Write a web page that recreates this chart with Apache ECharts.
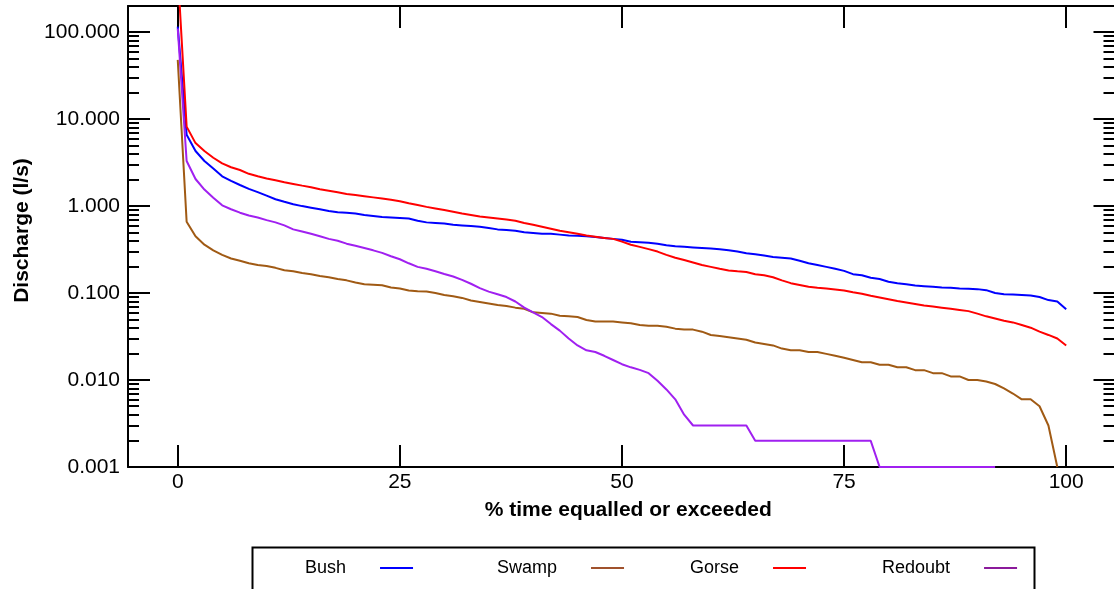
<!DOCTYPE html>
<html>
<head>
<meta charset="utf-8">
<script src="https://cdn.jsdelivr.net/npm/echarts@6.0.0/dist/echarts.min.js"></script>
<style>
html, body { margin: 0; padding: 0; background: #fff; }
#chart { width: 1114px; height: 589px; }
</style>
</head>
<body>
<div id="chart"></div>
<script>
// flow duration curves, one value per 1% exceedance step (0..100)
var names = ['Bush', 'Swamp', 'Gorse', 'Redoubt'];

var bush = [116, 6.6, 4.3, 3.3, 2.7, 2.2, 1.95, 1.75, 1.58, 1.45,
  1.32, 1.2, 1.12, 1.05, 1.0, 0.96, 0.92, 0.88, 0.85, 0.84,
  0.82, 0.79, 0.77, 0.75, 0.74, 0.73, 0.72, 0.68, 0.65, 0.64,
  0.63, 0.61, 0.6, 0.59, 0.58, 0.56, 0.54, 0.53, 0.52, 0.5,
  0.49, 0.48, 0.48, 0.47, 0.46, 0.455, 0.45, 0.44, 0.43, 0.42,
  0.41, 0.39, 0.385, 0.38, 0.37, 0.355, 0.345, 0.34, 0.335, 0.33,
  0.325, 0.32, 0.31, 0.3, 0.287, 0.28, 0.27, 0.26, 0.255, 0.25,
  0.235, 0.22, 0.21, 0.2, 0.19, 0.18, 0.165, 0.16, 0.15, 0.145,
  0.135, 0.13, 0.126, 0.122, 0.12, 0.118, 0.116, 0.115, 0.113, 0.112,
  0.111, 0.108, 0.1, 0.097, 0.096, 0.095, 0.094, 0.09, 0.083, 0.08,
  0.065];

var swamp = [48, 0.66, 0.45, 0.36, 0.31, 0.275, 0.25, 0.235, 0.22, 0.21,
  0.205, 0.195, 0.183, 0.178, 0.17, 0.165, 0.157, 0.152, 0.145, 0.14,
  0.132, 0.126, 0.125, 0.123, 0.116, 0.113, 0.107, 0.105, 0.104, 0.1,
  0.095, 0.092, 0.088, 0.082, 0.079, 0.076, 0.073, 0.071, 0.068, 0.066,
  0.06, 0.059, 0.058, 0.055, 0.054, 0.053, 0.049, 0.047, 0.047, 0.047,
  0.046, 0.045, 0.043, 0.042, 0.042, 0.041, 0.039, 0.038, 0.038, 0.036,
  0.033, 0.032, 0.031, 0.03, 0.029, 0.027, 0.026, 0.025, 0.023, 0.022,
  0.022, 0.021, 0.021, 0.02, 0.019, 0.018, 0.017, 0.016, 0.016, 0.015,
  0.015, 0.014, 0.014, 0.013, 0.013, 0.012, 0.012, 0.011, 0.011, 0.01,
  0.01, 0.0096, 0.009, 0.008, 0.007, 0.006, 0.006, 0.005, 0.003, 0.001,
  null];

var gorse = [500, 8.2, 5.3, 4.3, 3.6, 3.1, 2.8, 2.6, 2.35, 2.2,
  2.08, 1.98, 1.88, 1.8, 1.72, 1.65, 1.56, 1.5, 1.44, 1.38,
  1.34, 1.3, 1.26, 1.22, 1.18, 1.14, 1.08, 1.03, 0.98, 0.94,
  0.9, 0.86, 0.82, 0.79, 0.76, 0.74, 0.72, 0.7, 0.68, 0.64,
  0.61, 0.58, 0.55, 0.52, 0.5, 0.48, 0.46, 0.445, 0.43, 0.42,
  0.39, 0.36, 0.34, 0.32, 0.3, 0.275, 0.255, 0.24, 0.225, 0.21,
  0.2, 0.19, 0.182, 0.178, 0.175, 0.165, 0.16, 0.152, 0.14, 0.13,
  0.124, 0.118, 0.115, 0.113, 0.11, 0.107, 0.102, 0.098, 0.093, 0.089,
  0.085, 0.081, 0.078, 0.075, 0.072, 0.07, 0.068, 0.066, 0.064, 0.062,
  0.058, 0.054, 0.051, 0.048, 0.046, 0.043, 0.04, 0.036, 0.033, 0.03,
  0.025];

var redoubt = [110, 3.3, 2.05, 1.55, 1.25, 1.02, 0.92, 0.84, 0.78, 0.74,
  0.69, 0.65, 0.6, 0.54, 0.51, 0.48, 0.45, 0.42, 0.4, 0.37,
  0.35, 0.33, 0.31, 0.29, 0.265, 0.245, 0.22, 0.2, 0.19, 0.178,
  0.166, 0.155, 0.142, 0.128, 0.114, 0.104, 0.097, 0.09, 0.08, 0.068,
  0.06, 0.053, 0.044, 0.037, 0.03, 0.025, 0.022, 0.021, 0.019, 0.017,
  0.0152, 0.014, 0.0131, 0.012, 0.0098, 0.0078, 0.006, 0.004, 0.003, 0.003,
  0.003, 0.003, 0.003, 0.003, 0.003, 0.002, 0.002, 0.002, 0.002, 0.002,
  0.002, 0.002, 0.002, 0.002, 0.002, 0.002, 0.002, 0.002, 0.002, 0.001,
  0.001, 0.001, 0.001, 0.001, 0.001, 0.001, 0.001, 0.001, 0.001, 0.001,
  0.001, 0.001, 0.001, null, null, null, null, null, null, null,
  null];

var xTicks = [0, 25, 50, 75, 100];
var yMajor = [0.001, 0.01, 0.1, 1, 10, 100];

var lineColors = ['#0000ff', '#a05a14', '#ff0000', '#a020f0'];
var iconColors = ['#0000ff', '#a0522d', '#ff0000', '#8b1a9b'];
var font = 'Liberation Sans, Arial, Helvetica, sans-serif';

// minor log ticks 2..9 in every decade
var yMinor = [];
yMajor.forEach(function (d) {
  for (var k = 2; k <= 9; k++) yMinor.push(+(d * k).toPrecision(3));
});

function pairs(arr) {
  return arr.map(function (v, i) { return [i, v]; });
}

var tickStyle = { color: '#000', width: 2 };

function yAxisDef(pos, values, len, line, labels) {
  return {
    type: 'log', logBase: 10, min: 0.001, max: 200, position: pos,
    axisLine: { show: line, onZero: false, lineStyle: { color: '#000', width: 2 } },
    axisTick: { show: true, inside: true, length: len, lineStyle: tickStyle, customValues: values },
    axisLabel: labels ? {
      customValues: values, margin: 8, fontSize: 21, color: '#000', fontFamily: font,
      formatter: function (v) { return Number(v).toFixed(3); }
    } : { show: false },
    splitLine: { show: false }
  };
}

var yAxes = [
  yAxisDef('left', yMajor, 22, true, true),
  yAxisDef('left', yMinor, 11, false, false),
  yAxisDef('right', yMajor, 22, true, false),
  yAxisDef('right', yMinor, 12, false, false)
];
yAxes[0].name = 'Discharge (l/s)';
yAxes[0].nameLocation = 'middle';
yAxes[0].nameGap = 95;
yAxes[0].nameTextStyle = { fontSize: 21, fontWeight: 'bold', color: '#000', fontFamily: font, padding: [0, 0, 0, 12] };

var legends = [305, 497, 690, 882].map(function (x, i) {
  return {
    data: [{ name: names[i], itemStyle: { color: iconColors[i] } }],
    left: x, top: 559, padding: 0, align: 'right', icon: 'rect',
    itemWidth: 33, itemHeight: 2, selectedMode: false,
    textStyle: { fontSize: 18, color: '#000', fontFamily: font, padding: [0, 29, 0, 0] }
  };
});

var chart = echarts.init(document.getElementById('chart'));
chart.setOption({
  animation: false,
  backgroundColor: '#fff',
  grid: { left: 128, top: 6, width: 987.5, height: 461, outerBoundsMode: 'none' },
  xAxis: [{
    type: 'value', min: -5.6, max: 105.55, position: 'bottom',
    name: '% time equalled or exceeded', nameLocation: 'middle', nameGap: 33,
    nameTextStyle: { fontSize: 21, fontWeight: 'bold', color: '#000', fontFamily: font, padding: [0, 0, 0, 13] },
    axisLine: { show: true, onZero: false, lineStyle: { color: '#000', width: 2 } },
    axisTick: { inside: true, length: 22, lineStyle: tickStyle, customValues: xTicks },
    axisLabel: { customValues: xTicks, margin: 5, fontSize: 21, color: '#000', fontFamily: font },
    splitLine: { show: false }
  }, {
    type: 'value', min: -5.6, max: 105.55, position: 'top',
    axisLine: { show: true, onZero: false, lineStyle: { color: '#000', width: 2 } },
    axisTick: { inside: true, length: 22, lineStyle: tickStyle, customValues: xTicks },
    axisLabel: { show: false },
    splitLine: { show: false }
  }],
  yAxis: yAxes,
  legend: legends,
  graphic: [{
    type: 'rect', left: 250, top: 545,
    shape: { width: 782, height: 70 },
    style: { fill: 'none', stroke: '#000', lineWidth: 2 }
  }],
  series: [bush, swamp, gorse, redoubt].map(function (arr, i) {
    return {
      name: names[i], type: 'line', data: pairs(arr),
      xAxisIndex: 0, yAxisIndex: 0,
      showSymbol: false, symbol: 'none', connectNulls: false,
      color: lineColors[i],
      lineStyle: { color: lineColors[i], width: 2 },
      emphasis: { disabled: true }
    };
  })
});
</script>
</body>
</html>
